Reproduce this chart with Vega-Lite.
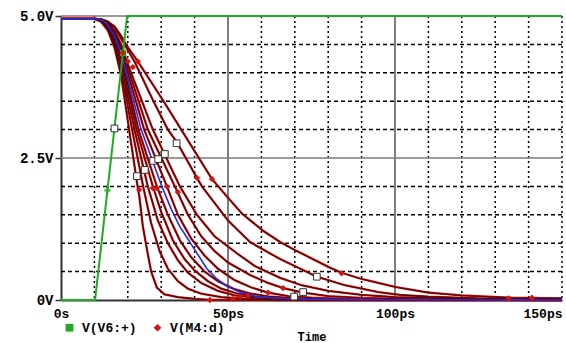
{
  "$schema": "https://vega.github.io/schema/vega-lite/v6.json",
  "width": 501,
  "height": 284,
  "autosize": "none",
  "padding": {"left": 61, "top": 16, "right": 4, "bottom": 43},
  "background": "white",
  "config": {"view": {"stroke": null}, "font": "Liberation Mono"},
  "datasets": {
    "xgrid_dot": [{"t": 10}, {"t": 20}, {"t": 30}, {"t": 40}, {"t": 60}, {"t": 70}, {"t": 80}, {"t": 90}, {"t": 110}, {"t": 120}, {"t": 130}, {"t": 140}, {"t": 150}],
    "xgrid_major": [{"t": 50}, {"t": 100}],
    "ygrid_dash": [{"v": 0.5}, {"v": 1}, {"v": 1.5}, {"v": 2}, {"v": 3}, {"v": 3.5}, {"v": 4}, {"v": 4.5}],
    "ygrid_major": [{"v": 2.5}, {"v": 5}],
    "v6": [
      {"t": 0, "v": 0}, {"t": 10.2, "v": 0}, {"t": 19.8, "v": 5}, {"t": 150, "v": 5}
    ],
    "m4": [
      {"run": 1, "t": 0, "v": 4.95}, {"run": 1, "t": 10, "v": 4.95}, {"run": 1, "t": 12, "v": 4.9}, {"run": 1, "t": 14, "v": 4.75}, {"run": 1, "t": 16, "v": 4.45}, {"run": 1, "t": 18, "v": 3.95}, {"run": 1, "t": 20.4, "v": 3.0}, {"run": 1, "t": 22.8, "v": 2.05}, {"run": 1, "t": 23.5, "v": 1.8}, {"run": 1, "t": 24.5, "v": 1.3}, {"run": 1, "t": 25.7, "v": 0.9}, {"run": 1, "t": 27, "v": 0.5}, {"run": 1, "t": 28.7, "v": 0.22}, {"run": 1, "t": 31, "v": 0.1}, {"run": 1, "t": 35, "v": 0.05}, {"run": 1, "t": 40, "v": 0.02}, {"run": 1, "t": 45, "v": 0}, {"run": 1, "t": 150, "v": 0},
      {"run": 2, "t": 0, "v": 4.95}, {"run": 2, "t": 10, "v": 4.95}, {"run": 2, "t": 12, "v": 4.92}, {"run": 2, "t": 14, "v": 4.78}, {"run": 2, "t": 16, "v": 4.5}, {"run": 2, "t": 18, "v": 4.05}, {"run": 2, "t": 21.3, "v": 3.0}, {"run": 2, "t": 24.6, "v": 2.0}, {"run": 2, "t": 27, "v": 1.35}, {"run": 2, "t": 29.6, "v": 0.85}, {"run": 2, "t": 32, "v": 0.55}, {"run": 2, "t": 35, "v": 0.33}, {"run": 2, "t": 38, "v": 0.2}, {"run": 2, "t": 42, "v": 0.11}, {"run": 2, "t": 48, "v": 0.05}, {"run": 2, "t": 55, "v": 0.02}, {"run": 2, "t": 65, "v": 0}, {"run": 2, "t": 150, "v": 0},
      {"run": 3, "t": 0, "v": 4.95}, {"run": 3, "t": 10, "v": 4.95}, {"run": 3, "t": 12, "v": 4.93}, {"run": 3, "t": 14, "v": 4.8}, {"run": 3, "t": 16, "v": 4.55}, {"run": 3, "t": 18, "v": 4.15}, {"run": 3, "t": 22, "v": 3.0}, {"run": 3, "t": 26, "v": 2.0}, {"run": 3, "t": 29, "v": 1.4}, {"run": 3, "t": 32, "v": 1.0}, {"run": 3, "t": 35, "v": 0.7}, {"run": 3, "t": 38, "v": 0.48}, {"run": 3, "t": 42, "v": 0.3}, {"run": 3, "t": 47, "v": 0.16}, {"run": 3, "t": 52, "v": 0.08}, {"run": 3, "t": 58, "v": 0.04}, {"run": 3, "t": 65, "v": 0.02}, {"run": 3, "t": 75, "v": 0}, {"run": 3, "t": 150, "v": 0},
      {"run": 4, "t": 0, "v": 4.95}, {"run": 4, "t": 10, "v": 4.95}, {"run": 4, "t": 12, "v": 4.93}, {"run": 4, "t": 14, "v": 4.82}, {"run": 4, "t": 16, "v": 4.6}, {"run": 4, "t": 18, "v": 4.25}, {"run": 4, "t": 22.6, "v": 3.0}, {"run": 4, "t": 27.5, "v": 2.0}, {"run": 4, "t": 30, "v": 1.55}, {"run": 4, "t": 33.5, "v": 1.05}, {"run": 4, "t": 37, "v": 0.72}, {"run": 4, "t": 40, "v": 0.52}, {"run": 4, "t": 44, "v": 0.33}, {"run": 4, "t": 48, "v": 0.2}, {"run": 4, "t": 53, "v": 0.11}, {"run": 4, "t": 58, "v": 0.06}, {"run": 4, "t": 65, "v": 0.03}, {"run": 4, "t": 80, "v": 0.01}, {"run": 4, "t": 150, "v": 0},
      {"run": 5, "t": 0, "v": 4.95}, {"run": 5, "t": 10, "v": 4.95}, {"run": 5, "t": 12, "v": 4.94}, {"run": 5, "t": 14, "v": 4.84}, {"run": 5, "t": 16, "v": 4.63}, {"run": 5, "t": 18, "v": 4.3}, {"run": 5, "t": 23.2, "v": 3.0}, {"run": 5, "t": 28.7, "v": 2.0}, {"run": 5, "t": 32, "v": 1.5}, {"run": 5, "t": 35.6, "v": 1.05}, {"run": 5, "t": 39, "v": 0.75}, {"run": 5, "t": 43, "v": 0.5}, {"run": 5, "t": 47, "v": 0.33}, {"run": 5, "t": 52, "v": 0.19}, {"run": 5, "t": 57, "v": 0.11}, {"run": 5, "t": 62, "v": 0.065}, {"run": 5, "t": 70, "v": 0.03}, {"run": 5, "t": 85, "v": 0.01}, {"run": 5, "t": 150, "v": 0},
      {"run": 6, "t": 0, "v": 4.95}, {"run": 6, "t": 10, "v": 4.95}, {"run": 6, "t": 12, "v": 4.94}, {"run": 6, "t": 14, "v": 4.87}, {"run": 6, "t": 16, "v": 4.68}, {"run": 6, "t": 18, "v": 4.4}, {"run": 6, "t": 24.9, "v": 3.0}, {"run": 6, "t": 31.7, "v": 2.0}, {"run": 6, "t": 35, "v": 1.5}, {"run": 6, "t": 39, "v": 1.08}, {"run": 6, "t": 43, "v": 0.78}, {"run": 6, "t": 47, "v": 0.55}, {"run": 6, "t": 52, "v": 0.35}, {"run": 6, "t": 57, "v": 0.22}, {"run": 6, "t": 62, "v": 0.13}, {"run": 6, "t": 68, "v": 0.07}, {"run": 6, "t": 75, "v": 0.04}, {"run": 6, "t": 90, "v": 0.01}, {"run": 6, "t": 150, "v": 0},
      {"run": 7, "t": 0, "v": 4.95}, {"run": 7, "t": 10, "v": 4.95}, {"run": 7, "t": 12, "v": 4.94}, {"run": 7, "t": 14, "v": 4.88}, {"run": 7, "t": 16, "v": 4.7}, {"run": 7, "t": 18, "v": 4.45}, {"run": 7, "t": 26, "v": 3.0}, {"run": 7, "t": 34.1, "v": 2.0}, {"run": 7, "t": 38, "v": 1.5}, {"run": 7, "t": 42, "v": 1.12}, {"run": 7, "t": 46, "v": 0.86}, {"run": 7, "t": 50, "v": 0.66}, {"run": 7, "t": 56.6, "v": 0.44}, {"run": 7, "t": 62, "v": 0.3}, {"run": 7, "t": 66.5, "v": 0.21}, {"run": 7, "t": 72.5, "v": 0.13}, {"run": 7, "t": 80, "v": 0.07}, {"run": 7, "t": 90, "v": 0.035}, {"run": 7, "t": 110, "v": 0.01}, {"run": 7, "t": 150, "v": 0},
      {"run": 8, "t": 0, "v": 4.95}, {"run": 8, "t": 10, "v": 4.95}, {"run": 8, "t": 12, "v": 4.94}, {"run": 8, "t": 14, "v": 4.9}, {"run": 8, "t": 16, "v": 4.74}, {"run": 8, "t": 18, "v": 4.5}, {"run": 8, "t": 20, "v": 4.15}, {"run": 8, "t": 27.5, "v": 3.0}, {"run": 8, "t": 35.6, "v": 2.0}, {"run": 8, "t": 40.7, "v": 1.5}, {"run": 8, "t": 46, "v": 1.12}, {"run": 8, "t": 52.7, "v": 0.82}, {"run": 8, "t": 58, "v": 0.6}, {"run": 8, "t": 65.6, "v": 0.39}, {"run": 8, "t": 72, "v": 0.26}, {"run": 8, "t": 80, "v": 0.16}, {"run": 8, "t": 90, "v": 0.09}, {"run": 8, "t": 100, "v": 0.05}, {"run": 8, "t": 120, "v": 0.02}, {"run": 8, "t": 150, "v": 0.01},
      {"run": 9, "t": 0, "v": 4.95}, {"run": 9, "t": 10, "v": 4.95}, {"run": 9, "t": 12, "v": 4.94}, {"run": 9, "t": 14, "v": 4.9}, {"run": 9, "t": 16, "v": 4.8}, {"run": 9, "t": 18, "v": 4.6}, {"run": 9, "t": 22, "v": 4.2}, {"run": 9, "t": 27.5, "v": 3.52}, {"run": 9, "t": 32, "v": 3.0}, {"run": 9, "t": 34.7, "v": 2.78}, {"run": 9, "t": 40.7, "v": 2.15}, {"run": 9, "t": 42.2, "v": 2.0}, {"run": 9, "t": 50, "v": 1.4}, {"run": 9, "t": 56.6, "v": 1.02}, {"run": 9, "t": 65.6, "v": 0.72}, {"run": 9, "t": 76.6, "v": 0.41}, {"run": 9, "t": 85, "v": 0.26}, {"run": 9, "t": 95, "v": 0.14}, {"run": 9, "t": 101.5, "v": 0.09}, {"run": 9, "t": 110, "v": 0.06}, {"run": 9, "t": 125, "v": 0.03}, {"run": 9, "t": 150, "v": 0.02},
      {"run": 10, "t": 0, "v": 4.95}, {"run": 10, "t": 10, "v": 4.95}, {"run": 10, "t": 12, "v": 4.94}, {"run": 10, "t": 14, "v": 4.9}, {"run": 10, "t": 16, "v": 4.82}, {"run": 10, "t": 18, "v": 4.65}, {"run": 10, "t": 20, "v": 4.45}, {"run": 10, "t": 23, "v": 4.2}, {"run": 10, "t": 30.5, "v": 3.52}, {"run": 10, "t": 36, "v": 3.0}, {"run": 10, "t": 45.2, "v": 2.13}, {"run": 10, "t": 50, "v": 1.8}, {"run": 10, "t": 54.2, "v": 1.52}, {"run": 10, "t": 60.5, "v": 1.22}, {"run": 10, "t": 65.6, "v": 1.02}, {"run": 10, "t": 70, "v": 0.88}, {"run": 10, "t": 80.5, "v": 0.57}, {"run": 10, "t": 84, "v": 0.48}, {"run": 10, "t": 90, "v": 0.37}, {"run": 10, "t": 100, "v": 0.23}, {"run": 10, "t": 110, "v": 0.13}, {"run": 10, "t": 120, "v": 0.08}, {"run": 10, "t": 135, "v": 0.04}, {"run": 10, "t": 150, "v": 0.03}
    ],
    "m4_sel": [
      {"t": 0, "v": 4.95}, {"t": 10, "v": 4.95}, {"t": 12, "v": 4.94}, {"t": 14, "v": 4.85}, {"t": 16, "v": 4.65}, {"t": 18, "v": 4.35}, {"t": 24, "v": 3.0}, {"t": 30.2, "v": 2.0}, {"t": 33, "v": 1.6}, {"t": 35.5, "v": 1.3}, {"t": 37.7, "v": 1.1}, {"t": 39, "v": 0.98}, {"t": 43.7, "v": 0.55}, {"t": 46.5, "v": 0.38}, {"t": 49.7, "v": 0.24}, {"t": 54, "v": 0.13}, {"t": 58.7, "v": 0.06}, {"t": 65, "v": 0.03}, {"t": 75, "v": 0.015}, {"t": 90, "v": 0.005}, {"t": 150, "v": 0}
    ],
    "marks": [
      {"series": "V(V6:+)", "t": 18.6, "v": 4.35},
      {"series": "V(M4:d)", "t": 18.5, "v": 4.35}, {"series": "V(M4:d)", "t": 20.0, "v": 4.2}, {"series": "V(M4:d)", "t": 21.5, "v": 4.1}, {"series": "V(M4:d)", "t": 23.0, "v": 4.2},
      {"series": "V(M4:d)", "t": 23.4, "v": 1.94}, {"series": "V(M4:d)", "t": 27.5, "v": 1.97}, {"series": "V(M4:d)", "t": 28.7, "v": 1.97}, {"series": "V(M4:d)", "t": 31.7, "v": 2.0}, {"series": "V(M4:d)", "t": 35.0, "v": 1.9}, {"series": "V(M4:d)", "t": 40.7, "v": 2.15}, {"series": "V(M4:d)", "t": 45.2, "v": 2.13},
      {"series": "V(M4:d)", "t": 44.6, "v": 0.0}, {"series": "V(M4:d)", "t": 51.5, "v": 0.02}, {"series": "V(M4:d)", "t": 53.6, "v": 0.06}, {"series": "V(M4:d)", "t": 56.0, "v": 0.08}, {"series": "V(M4:d)", "t": 62.0, "v": 0.13}, {"series": "V(M4:d)", "t": 66.5, "v": 0.21}, {"series": "V(M4:d)", "t": 84.0, "v": 0.47}, {"series": "V(M4:d)", "t": 134.0, "v": 0.03}, {"series": "V(M4:d)", "t": 141.0, "v": 0.04}
    ],
    "v6_star": [{"t": 13.9, "v": 1.93}],
    "squares": [
      {"t": 16.0, "v": 3.02}, {"t": 22.7, "v": 2.18}, {"t": 25.1, "v": 2.29}, {"t": 27.6, "v": 2.45}, {"t": 29.1, "v": 2.48}, {"t": 31.1, "v": 2.57}, {"t": 34.6, "v": 2.76}, {"t": 69.8, "v": 0.06}, {"t": 72.5, "v": 0.14}, {"t": 76.6, "v": 0.41}
    ]
  },
  "layer": [
    {
      "data": {"name": "xgrid_dot"},
      "mark": {"type": "rule", "color": "#000000", "strokeWidth": 1.5, "strokeDash": [2, 3]},
      "encoding": {"x": {"field": "t", "type": "quantitative"}}
    },
    {
      "data": {"name": "xgrid_major"},
      "mark": {"type": "rule", "color": "#555555", "strokeWidth": 1.5},
      "encoding": {"x": {"field": "t", "type": "quantitative"}}
    },
    {
      "data": {"name": "ygrid_dash"},
      "mark": {"type": "rule", "color": "#000000", "strokeWidth": 1.5, "strokeDash": [4, 3]},
      "encoding": {"y": {"field": "v", "type": "quantitative"}}
    },
    {
      "data": {"name": "ygrid_major"},
      "mark": {"type": "rule", "color": "#7a7a7a", "strokeWidth": 1.5},
      "encoding": {"y": {"field": "v", "type": "quantitative"}}
    },
    {
      "data": {"name": "m4"},
      "mark": {"type": "line", "color": "#d41414", "strokeWidth": 2.3},
      "encoding": {
        "x": {
          "field": "t", "type": "quantitative",
          "scale": {"domain": [0, 150], "nice": false, "zero": false},
          "axis": {
            "values": [0, 50, 100, 150],
            "labelExpr": "datum.value == 0 ? '0s' : datum.value + 'ps'",
            "labelAlign": {"condition": {"test": "datum.value == 150", "value": "right"}, "value": "center"},
            "labelFont": "Liberation Mono", "labelFontWeight": "bold", "labelFontSize": 13, "labelColor": "#000",
            "labelBaseline": "middle", "labelPadding": 13, "labelOverlap": false, "labelFlush": false,
            "ticks": false, "grid": false,
            "domainColor": "#333333", "domainWidth": 2,
            "title": "Time", "titleFont": "Liberation Mono", "titleFontWeight": "bold", "titleFontSize": 12, "titleColor": "#000",
            "titleY": 36, "titleBaseline": "middle"
          }
        },
        "y": {
          "field": "v", "type": "quantitative",
          "scale": {"domain": [0, 5], "nice": false},
          "axis": {
            "values": [0, 2.5, 5],
            "labelExpr": "datum.value == 5 ? '5.0V' : (datum.value == 2.5 ? '2.5V' : '0V')",
            "labelFont": "Liberation Mono", "labelFontWeight": "bold", "labelFontSize": 14, "labelColor": "#000",
            "labelPadding": 2, "labelOverlap": false,
            "tickSize": 6, "tickColor": "#333333", "tickWidth": 1.5,
            "grid": false,
            "domainColor": "#333333", "domainWidth": 2,
            "title": null
          }
        },
        "detail": {"field": "run", "type": "nominal"}
      }
    },
    {
      "data": {"name": "m4"},
      "mark": {"type": "line", "color": "#4a0606", "strokeWidth": 1.1},
      "encoding": {
        "x": {"field": "t", "type": "quantitative"},
        "y": {"field": "v", "type": "quantitative"},
        "detail": {"field": "run", "type": "nominal"}
      }
    },
    {
      "data": {"name": "m4_sel"},
      "mark": {"type": "line", "color": "#2a2ae0", "strokeWidth": 1.6},
      "encoding": {
        "x": {"field": "t", "type": "quantitative"},
        "y": {"field": "v", "type": "quantitative"}
      }
    },
    {
      "data": {"name": "v6"},
      "mark": {"type": "line", "color": "#1faa1f", "strokeWidth": 2},
      "encoding": {
        "x": {"field": "t", "type": "quantitative"},
        "y": {"field": "v", "type": "quantitative"}
      }
    },
    {
      "data": {"name": "v6_star"},
      "mark": {"type": "point", "shape": "cross", "filled": true, "color": "#1faa1f", "size": 40},
      "encoding": {
        "x": {"field": "t", "type": "quantitative"},
        "y": {"field": "v", "type": "quantitative"}
      }
    },
    {
      "data": {"name": "squares"},
      "mark": {"type": "point", "shape": "square", "filled": true, "fill": "white", "stroke": "#333333", "strokeWidth": 1, "size": 45, "opacity": 1},
      "encoding": {
        "x": {"field": "t", "type": "quantitative"},
        "y": {"field": "v", "type": "quantitative"}
      }
    },
    {
      "data": {"name": "marks"},
      "mark": {"type": "point", "filled": true, "size": 40, "opacity": 1},
      "encoding": {
        "x": {"field": "t", "type": "quantitative"},
        "y": {"field": "v", "type": "quantitative"},
        "color": {
          "field": "series", "type": "nominal",
          "scale": {"domain": ["V(V6:+)", "V(M4:d)"], "range": ["#1faa1f", "#d41414"]},
          "legend": {
            "title": null, "orient": "none", "legendX": 2, "legendY": 305, "direction": "horizontal",
            "labelFont": "Liberation Mono", "labelFontWeight": "bold", "labelFontSize": 13, "labelColor": "#000",
            "symbolSize": 60, "symbolStrokeWidth": 1.5, "labelOffset": 6, "columnPadding": 14, "padding": 0
          }
        },
        "shape": {
          "field": "series", "type": "nominal",
          "scale": {"domain": ["V(V6:+)", "V(M4:d)"], "range": ["square", "diamond"]},
          "legend": {
            "title": null, "orient": "none", "legendX": 2, "legendY": 305, "direction": "horizontal",
            "labelFont": "Liberation Mono", "labelFontWeight": "bold", "labelFontSize": 13, "labelColor": "#000",
            "symbolSize": 60, "symbolStrokeWidth": 1.5, "labelOffset": 6, "columnPadding": 14, "padding": 0
          }
        }
      }
    }
  ]
}
